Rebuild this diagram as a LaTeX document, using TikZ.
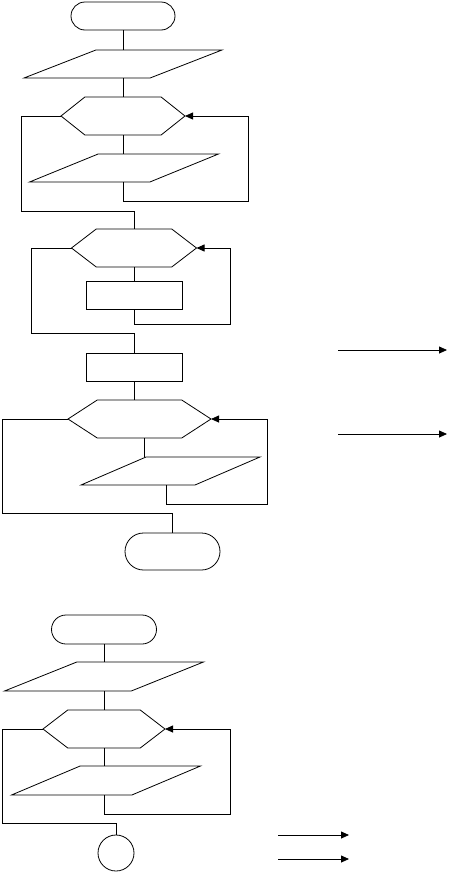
\documentclass[tikz,border=0pt]{standalone}
\usepackage{tikz}
\usetikzlibrary{positioning, arrows.meta, shapes.geometric, shapes.symbols}

\begin{document}
\begin{tikzpicture}[x=1pt, y=-1pt, line width=0.8pt,
    term/.style={draw, rectangle, rounded corners=#1, inner sep=0pt, outer sep=0pt},
    io/.style={draw, trapezium, trapezium left angle=37, trapezium right angle=143,
        trapezium stretches=true, inner sep=2pt, outer sep=0pt},
    cond/.style={draw, signal, signal to=west and east, signal pointer angle=#1,
        inner sep=2pt, outer sep=0pt},
    proc/.style={draw, rectangle, inner sep=0pt, outer sep=0pt},
    conn/.style={draw, circle, inner sep=0pt, outer sep=0pt},
    back/.style={-{Triangle[length=8pt, width=7pt]}},
    flow/.style={-{Triangle[length=8pt, width=7pt]}}]
      \useasboundingbox (0,0) rectangle (448,873);

      % --- First chart ---
      % Start, input and the first loop with its output box.
      \node[term=14pt, minimum width=104pt, minimum height=28pt] (start1) at (123,16) {};
      \node[io, minimum width=198pt, minimum height=28pt] (in1) at (123,64) {};
      \node[cond=77, minimum width=124pt, minimum height=38pt] (loop1) at (123,116) {};
      \node[io, minimum width=189pt, minimum height=28pt] (out1) at (124,168) {};

      % Second loop with two process boxes.
      \node[cond=75, minimum width=125pt, minimum height=38pt] (loop2) at (134,248) {};
      \node[proc, minimum width=96pt, minimum height=28pt] (proc1) at (134,295) {};
      \node[proc, minimum width=96pt, minimum height=28pt] (proc2) at (134,367) {};

      % Third loop, output and stop.
      \node[cond=66, minimum width=143pt, minimum height=38pt] (loop3) at (139.5,419) {};
      \node[io, minimum width=179pt, minimum height=28pt] (out2) at (170.5,471) {};
      \node[term=18.5pt, minimum width=95pt, minimum height=37pt] (stop1) at (172.5,551.5) {};

      \coordinate (ret1) at (248,201);
      \coordinate (exit1) at (21,211);
      \coordinate (ret2) at (230,324);
      \coordinate (exit2) at (31,333);
      \coordinate (col3) at (144,0);
      \coordinate (col4) at (166,0);
      \coordinate (ret3) at (267,504);
      \coordinate (exit3) at (2,513);

      % --- Connectors ---
      \draw (start1) -- (in1);
      \draw (in1) -- (loop1);
      \draw (loop1) -- (loop1.south |- out1.north);
      \draw[back] (out1.south -| loop1.south) |- (ret1) |- (loop1.east);
      \draw (loop1.west) -| (exit1) -| (loop2.north);

      \draw (loop2) -- (proc1);
      \draw[back] (proc1.south) |- (ret2) |- (loop2.east);
      \draw (loop2.west) -| (exit2) -| (proc2.north);
      \draw (proc2.south) -- (loop3.north -| proc2.south);

      \draw (loop3.south -| col3) -- (out2.north -| col3);
      \draw[back] (out2.south -| col4) |- (ret3) |- (loop3.east);
      \draw (loop3.west) -| (exit3) -| (stop1.north);

      % Loose arrows on the right
      \coordinate (a1s) at (338,350);
      \coordinate (a1e) at (447,350);
      \coordinate (a2s) at (338,434);
      \coordinate (a2e) at (447,434);
      \draw[flow] (a1s) -- (a1e);
      \draw[flow] (a2s) -- (a2e);

      % --- Second chart ---
      \node[term=14.5pt, minimum width=105pt, minimum height=29pt] (start2) at (104,629.5) {};
      \node[io, minimum width=199pt, minimum height=29pt] (in2) at (104,676.5) {};
      \node[cond=75, minimum width=122pt, minimum height=38pt] (loop4) at (104,729) {};
      \node[io, minimum width=189pt, minimum height=29pt] (out3) at (106,780.5) {};
      \node[conn, minimum size=36pt] (conn1) at (116,853) {};

      \coordinate (ret4) at (230,814);
      \coordinate (exit4) at (2,823);

      \draw (start2) -- (in2);
      \draw (in2) -- (loop4);
      \draw (loop4) -- (loop4.south |- out3.north);
      \draw[back] (out3.south -| loop4.south) |- (ret4) |- (loop4.east);
      \draw (loop4.west) -| (exit4) -| (conn1.north);

      \coordinate (a3s) at (278,835);
      \coordinate (a3e) at (349,835);
      \coordinate (a4s) at (278,859);
      \coordinate (a4e) at (349,859);
      \draw[flow] (a3s) -- (a3e);
      \draw[flow] (a4s) -- (a4e);
\end{tikzpicture}
\end{document}
